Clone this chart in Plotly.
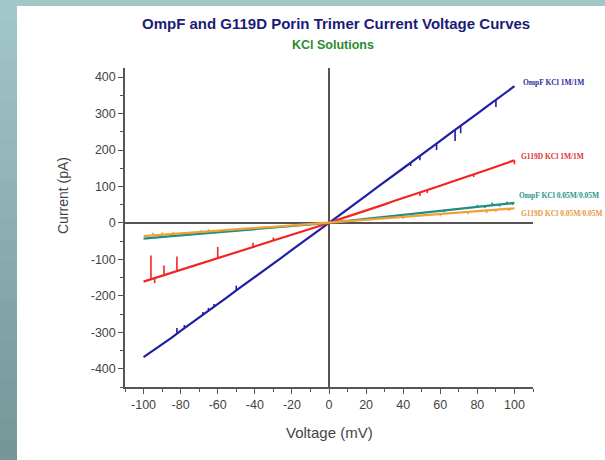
import plotly.graph_objects as go

# Voltage grid (mV) shared by the four I-V recordings
voltage = list(range(-100, 101, 5))

# Current (pA) for each recording, read along the grid above
ompf_1m = [-368, -351, -333, -315, -296, -278, -259, -241, -222, -204, -185,
           -167, -148, -130, -111, -93, -74, -56, -37, -18, 0,
           19, 37, 56, 75, 94, 112, 131, 150, 169, 187,
           206, 225, 244, 262, 281, 300, 319, 337, 356, 375]
g119d_1m = [-161, -153, -146, -138, -130, -122, -114, -106, -98, -90, -82,
            -73, -65, -57, -49, -41, -33, -25, -16, -8, 0,
            9, 17, 26, 34, 43, 51, 60, 68, 77, 85,
            94, 102, 111, 119, 128, 137, 145, 154, 162, 172]
ompf_005m = [-43, -40, -38, -36, -34, -32, -30, -28, -26, -23, -21,
             -19, -17, -15, -13, -11, -9, -6, -4, -2, 0,
             3, 5, 8, 11, 14, 16, 19, 22, 25, 27,
             30, 33, 36, 38, 41, 44, 47, 50, 52, 55]
g119d_005m = [-36, -34, -32, -30, -28, -27, -25, -23, -21, -19, -18,
              -16, -14, -12, -11, -9, -7, -5, -3, -2, 0,
              2, 4, 6, 8, 10, 12, 14, 16, 18, 20,
              22, 24, 26, 28, 30, 32, 34, 36, 38, 40]

# Gating spikes: voltage, current on the trace, current at spike tip
ompf_1m_spikes = [(-82, -303, -288), (-78, -289, -280), (-68, -252, -244),
                  (-65, -240, -233), (-62, -229, -222), (-50, -185, -172),
                  (44, 165, 156), (49, 183, 172), (58, 217, 200),
                  (68, 254, 225), (71, 266, 246), (90, 337, 318)]
g119d_1m_spikes = [(-96, -155, -89), (-94, -152, -165), (-89, -144, -117),
                   (-82, -133, -92), (-60, -98, -66), (-41, -67, -54),
                   (-30, -49, -40), (49, 83, 74), (53, 90, 82),
                   (78, 133, 126), (100, 172, 161)]
ompf_005m_spikes = [(-69, -30, -21), (62, 34, 29), (80, 44, 50), (84, 46, 41),
                    (88, 49, 56), (92, 50, 45), (96, 53, 59), (99, 54, 49)]
g119d_005m_spikes = [(-95, -34, -27), (-90, -32, -26), (-84, -30, -24),
                     (-65, -23, -17), (40, 16, 11), (60, 24, 18),
                     (75, 30, 24), (85, 34, 27), (90, 36, 30), (97, 39, 33)]

# Axis ticks
x_ticks = [-100, -80, -60, -40, -20, 0, 20, 40, 60, 80, 100]
x_tick_labels = ["-100", "-80", "-60", "-40", "-20", "0", "20", "40", "60", "80", "100"]
y_ticks = [-400, -300, -200, -100, 0, 100, 200, 300, 400]
y_tick_labels = ["-400", "-300", "-200", "-100", "0", "100", "200", "300", "400"]

series = [
    ("OmpF KCl 1M/1M", ompf_1m, ompf_1m_spikes, "#1f1fa6", "#2b2b9e", 384),
    ("G119D KCl 1M/1M", g119d_1m, g119d_1m_spikes, "#f22424", "#e03434", 181),
    ("OmpF KCl 0.05M/0.05M", ompf_005m, ompf_005m_spikes, "#1c8f86", "#2a968d", 74),
    ("G119D KCl 0.05M/0.05M", g119d_005m, g119d_005m_spikes, "#f2a033", "#e49a3c", 27),
]
label_x = [103.5, 102.4, 101.3, 102.4]

# Figure geometry in pixels
W, H = 605, 460
L, R, T, B = 125, 72, 68, 73
pw, ph = W - L - R, H - T - B


def px_x(p):
    return (p - L) / pw


def px_y(p):
    return (H - B - p) / ph


fig = go.Figure()
annotations = []
for (name, cur, spikes, color, lcolor, ly), lx in zip(series, label_x):
    fig.add_trace(go.Scatter(x=voltage, y=cur, mode="lines", name=name,
                             line=dict(color=color, width=2.2),
                             showlegend=False, hoverinfo="skip"))
    sx, sy = [], []
    for v, base, tip in spikes:
        sx += [v, v, None]
        sy += [base, tip, None]
    fig.add_trace(go.Scatter(x=sx, y=sy, mode="lines",
                             line=dict(color=color, width=1.6),
                             showlegend=False, hoverinfo="skip"))
    annotations.append(dict(x=lx, y=ly, xref="x", yref="y", text=name,
                            showarrow=False, xanchor="left", yanchor="middle",
                            font=dict(family="Liberation Serif", size=7.5,
                                      color=lcolor, weight="bold")))

annotations += [
    dict(text="<b>OmpF and G119D Porin Trimer Current Voltage Curves</b>",
         x=px_x(336), y=px_y(23), xref="paper", yref="paper",
         showarrow=False, xanchor="center", yanchor="middle",
         font=dict(family="Arial", size=15, color="#1b1b78")),
    dict(text="<b>KCl Solutions</b>",
         x=px_x(333), y=px_y(45), xref="paper", yref="paper",
         showarrow=False, xanchor="center", yanchor="middle",
         font=dict(family="Arial", size=12.5, color="#2d8c2d")),
    dict(text="Current (pA)", textangle=-90,
         x=px_x(63), y=px_y(196), xref="paper", yref="paper",
         showarrow=False, xanchor="center", yanchor="middle",
         font=dict(family="Arial", size=14, color="#444444")),
    dict(text="Voltage (mV)",
         x=px_x(329), y=px_y(432), xref="paper", yref="paper",
         showarrow=False, xanchor="center", yanchor="middle",
         font=dict(family="Arial", size=15, color="#444444")),
]

# Slate backdrop strips (left gradient band and top edge)
shapes = []
top_rgb = (163, 198, 201)
bot_rgb = (118, 150, 152)
bands = 23
for i in range(bands):
    t = i / (bands - 1)
    c = tuple(round(a + (b - a) * t) for a, b in zip(top_rgb, bot_rgb))
    shapes.append(dict(type="rect", xref="paper", yref="paper", layer="below",
                       x0=px_x(0), x1=px_x(17),
                       y0=px_y(min(H, (i + 1) * H / bands)), y1=px_y(i * H / bands),
                       fillcolor="rgb(%d,%d,%d)" % c, line=dict(width=0)))
shapes.append(dict(type="rect", xref="paper", yref="paper", layer="below",
                   x0=px_x(0), x1=px_x(W), y0=px_y(6), y1=px_y(0),
                   fillcolor="rgb(%d,%d,%d)" % top_rgb, line=dict(width=0)))

axis_common = dict(showgrid=False, showline=True, linecolor="#555555",
                   linewidth=1.5, ticks="outside", tickcolor="#555555",
                   tickwidth=1.2, ticklen=5, zeroline=True,
                   zerolinecolor="#555555", zerolinewidth=1.5,
                   tickfont=dict(family="Arial", size=12.5, color="#444444"),
                   mirror=False, tickmode="array")

fig.update_layout(
    width=W, height=H,
    margin=dict(l=L, r=R, t=T, b=B),
    paper_bgcolor="white", plot_bgcolor="white",
    annotations=annotations, shapes=shapes,
    xaxis=dict(range=[-110, 110], tickvals=x_ticks, ticktext=x_tick_labels,
               minor=dict(ticks="outside", ticklen=3, tickcolor="#555555",
                          dtick=10, tick0=0),
               **axis_common),
    yaxis=dict(range=[-450, 425], tickvals=y_ticks, ticktext=y_tick_labels,
               minor=dict(ticks="outside", ticklen=3, tickcolor="#555555",
                          dtick=50, tick0=0),
               **axis_common),
)

fig.write_html("out.html")
